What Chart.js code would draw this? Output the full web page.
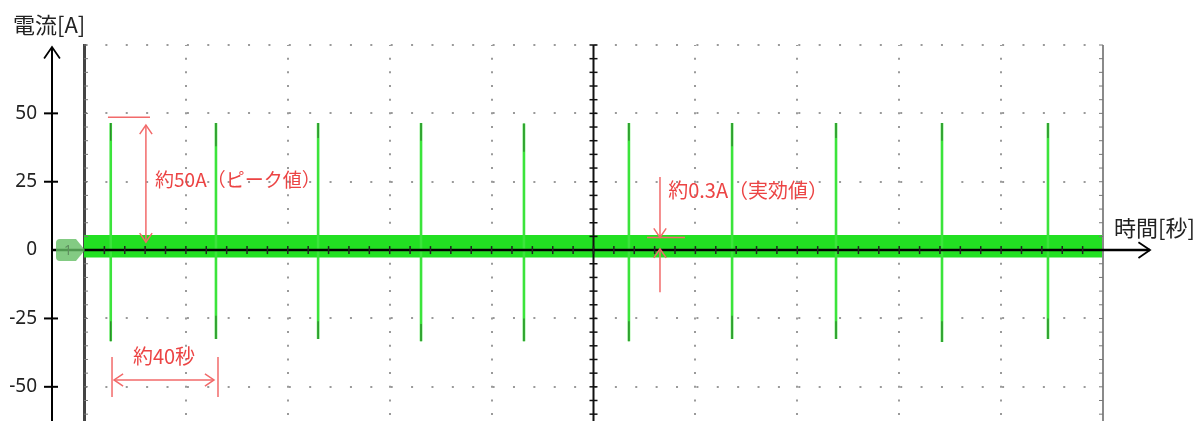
<!DOCTYPE html>
<html>
<head>
<meta charset="utf-8">
<script src="https://cdn.jsdelivr.net/npm/chart.js@4"></script>
<style>
body { margin: 0; background: #fff; overflow: hidden; }
canvas { display: block; }
</style>
</head>
<body>
<canvas id="scopeChart" width="1202" height="421"></canvas>
<script>
// 横軸 [秒] / 縦軸 [A]
var timeRange = [0, 400];
var timeStep = 40;
var currentRange = [-62.5, 75];
var currentGrid = [-50, -25, 0, 25, 50, 75];
var currentLabels = ["-50", "-25", "0", "25", "50", ""];

// スパイク (約40秒おき)
var spikeTimes = [10.5, 51.8, 91.9, 132.3, 172.7, 213.9, 254.4, 295.2, 336.8, 378.4];
var spikePeaks = [46.5, 46.5, 46.5, 46.5, 46.3, 46.5, 46.5, 46.5, 46.5, 46.5];
var spikeTroughs = [-33.3, -32.5, -32.5, -33.3, -33.3, -33.3, -32.5, -32.5, -33.6, -32.5];
// スパイク先端の濃い部分
var spikeDarkTop = [40, 38, 41, 40, 36, 40, 38, 41, 40, 41];
var spikeDarkBottom = [-26, -24, -26, -27, -25, -26, -24, -26, -26, -25];

// 定常時のノイズ帯
var bandTimes = [0, 400];
var bandUpper = [5.5, 5.5];
var bandLower = [-2.7, -2.7];

// 注記 (時間, 電流)
var peakLine = [9.4, 25.9, 48.6];          // t1, t2, A
var peakArrow = [24.3, 45.7, 2.9];         // t, A top, A bottom
var peakText = [27.9, 25.6];
var rmsArrow = [226.1, 26.7, 4.6, -15.4, 0.5]; // t, top, tip1, bottom, tip2
var rmsLine = [221.0, 235.9, 4.6];
var rmsText = [229.3, 21.9];
var periodLines = [11.0, 52.6, -39.1, -53.7];  // t1, t2, A top, A bottom
var periodArrow = [-47.5];
var periodText = [19.2, -38.8];

var spikeData = [];
var darkData = [];
for (var i = 0; i < spikeTimes.length; i++) {
    spikeData.push({x: spikeTimes[i], y: 0});
    spikeData.push({x: spikeTimes[i], y: spikePeaks[i]});
    spikeData.push({x: spikeTimes[i], y: spikeTroughs[i]});
    spikeData.push({x: spikeTimes[i], y: 0});
    darkData.push({x: spikeTimes[i], y: spikePeaks[i]});
    darkData.push({x: spikeTimes[i], y: spikeDarkTop[i]});
    darkData.push({x: spikeTimes[i], y: null});
    darkData.push({x: spikeTimes[i], y: spikeDarkBottom[i]});
    darkData.push({x: spikeTimes[i], y: spikeTroughs[i]});
    darkData.push({x: spikeTimes[i], y: null});
}
var upperData = bandTimes.map(function(t, i) { return {x: t, y: bandUpper[i]}; });
var lowerData = bandTimes.map(function(t, i) { return {x: t, y: bandLower[i]}; });

var red = "#ec4444";
var redLine = "#f26a6a";
var cjk = "'Noto Sans CJK JP', 'Noto Sans', sans-serif";

function chevron(ctx, x, y, ang, len) {
    ctx.beginPath();
    ctx.moveTo(x - len * Math.cos(ang - 0.6), y - len * Math.sin(ang - 0.6));
    ctx.lineTo(x, y);
    ctx.lineTo(x - len * Math.cos(ang + 0.6), y - len * Math.sin(ang + 0.6));
    ctx.stroke();
}

function line(ctx, x1, y1, x2, y2) {
    ctx.beginPath();
    ctx.moveTo(x1, y1);
    ctx.lineTo(x2, y2);
    ctx.stroke();
}

var scopeDecor = {
    id: "scopeDecor",
    afterDatasetsDraw: function(chart) {
        var ctx = chart.ctx, xs = chart.scales.x, ys = chart.scales.y, area = chart.chartArea;
        var X = function(v) { return xs.getPixelForValue(v); };
        var Y = function(v) { return ys.getPixelForValue(v); };
        var y0 = Y(0), xc = X(200);
        ctx.save();

        // right frame
        ctx.strokeStyle = "#8a8a8a";
        ctx.lineWidth = 2;
        line(ctx, X(400), area.top, X(400), area.bottom);

        // minor ticks on frames
        ctx.lineWidth = 1;
        for (var a = -60; a <= 75; a += 5) {
            ctx.strokeStyle = "#777";
            line(ctx, area.left, Y(a), area.left + 4, Y(a));
            line(ctx, X(400) - 4, Y(a), X(400), Y(a));
        }

        // center vertical line
        ctx.strokeStyle = "#111";
        ctx.lineWidth = 2;
        line(ctx, xc, area.top, xc, area.bottom);
        ctx.lineWidth = 1.5;
        for (var b = -60; b <= 75; b += 5) {
            line(ctx, xc - 4, Y(b), xc + 4, Y(b));
        }

        // x axis arrow (0 A line)
        ctx.strokeStyle = "#000";
        ctx.lineWidth = 2.5;
        line(ctx, 52, y0, 1150, y0);
        ctx.lineWidth = 1.8;
        chevron(ctx, 1150, y0, 0, 14);
        ctx.lineWidth = 1.5;
        ctx.strokeStyle = "#222";
        for (var t = 8; t < 400; t += 8) {
            line(ctx, X(t), y0 - 4, X(t), y0 + 4);
        }

        // y axis arrow
        ctx.strokeStyle = "#000";
        ctx.lineWidth = 2;
        line(ctx, 52, 47, 52, area.bottom);
        ctx.lineWidth = 1.8;
        chevron(ctx, 52, 47, -Math.PI / 2, 14);
        for (var k = 0; k < currentGrid.length; k++) {
            var v = currentGrid[k];
            if (v === 0 || currentLabels[k] === "") continue;
            ctx.lineWidth = 2;
            line(ctx, 44, Y(v), 58, Y(v));
        }

        // channel marker
        ctx.fillStyle = "rgba(100,190,100,0.8)";
        ctx.beginPath();
        ctx.moveTo(60, y0 - 11);
        ctx.lineTo(76, y0 - 11);
        ctx.lineTo(85, y0);
        ctx.lineTo(76, y0 + 11);
        ctx.lineTo(60, y0 + 11);
        ctx.quadraticCurveTo(56, y0 + 11, 56, y0 + 7);
        ctx.lineTo(56, y0 - 7);
        ctx.quadraticCurveTo(56, y0 - 11, 60, y0 - 11);
        ctx.fill();
        ctx.fillStyle = "#5f8f5f";
        ctx.font = "14px 'Noto Sans'";
        ctx.textAlign = "center";
        ctx.textBaseline = "middle";
        ctx.fillText("1", 68, y0 + 1);

        // axis titles
        ctx.fillStyle = "#222";
        ctx.textAlign = "left";
        ctx.font = "22px " + cjk;
        ctx.fillText("電流[A]", 13, 25);
        ctx.fillText("時間[秒]", 1114, 228);

        // peak annotation
        ctx.strokeStyle = redLine;
        ctx.lineWidth = 1.5;
        line(ctx, X(peakLine[0]), Y(peakLine[2]), X(peakLine[1]), Y(peakLine[2]));
        line(ctx, X(peakArrow[0]), Y(peakArrow[1]), X(peakArrow[0]), Y(peakArrow[2]));
        chevron(ctx, X(peakArrow[0]), Y(peakArrow[1]), -Math.PI / 2, 11);
        chevron(ctx, X(peakArrow[0]), Y(peakArrow[2]), Math.PI / 2, 11);

        // rms annotation
        line(ctx, X(rmsArrow[0]), Y(rmsArrow[1]), X(rmsArrow[0]), Y(rmsArrow[2]));
        chevron(ctx, X(rmsArrow[0]), Y(rmsArrow[2]), Math.PI / 2, 11);
        line(ctx, X(rmsArrow[0]), Y(rmsArrow[3]), X(rmsArrow[0]), Y(rmsArrow[4]));
        chevron(ctx, X(rmsArrow[0]), Y(rmsArrow[4]), -Math.PI / 2, 11);
        line(ctx, X(rmsLine[0]), Y(rmsLine[2]), X(rmsLine[1]), Y(rmsLine[2]));

        // period annotation
        line(ctx, X(periodLines[0]), Y(periodLines[2]), X(periodLines[0]), Y(periodLines[3]));
        line(ctx, X(periodLines[1]), Y(periodLines[2]), X(periodLines[1]), Y(periodLines[3]));
        line(ctx, X(periodLines[0]) + 2, Y(periodArrow[0]), X(periodLines[1]) - 4, Y(periodArrow[0]));
        chevron(ctx, X(periodLines[0]) + 2, Y(periodArrow[0]), Math.PI, 11);
        chevron(ctx, X(periodLines[1]) - 4, Y(periodArrow[0]), 0, 11);

        ctx.fillStyle = red;
        ctx.textBaseline = "middle";
        ctx.font = "19px " + cjk;
        ctx.fillText("約50A（ピーク値）", X(peakText[0]), Y(peakText[1]));
        ctx.font = "20px " + cjk;
        ctx.fillText("約0.3A（実効値）", X(rmsText[0]), Y(rmsText[1]));
        ctx.fillText("約40秒", X(periodText[0]), Y(periodText[1]));
        ctx.restore();
    }
};

var compareChart = document.getElementById("scopeChart");
var myLineChart = new Chart(compareChart, {
    type: "line",
    data: {
        datasets: [{
            label: "spikeDark",
            data: darkData,
            borderColor: "#2d7d2d",
            borderWidth: 1.2,
            pointRadius: 0,
            tension: 0,
            spanGaps: false,
            fill: false,
            order: 0
        }, {
            label: "spike",
            data: spikeData,
            borderColor: "#3be43b",
            borderWidth: 2.6,
            pointRadius: 0,
            tension: 0,
            fill: false,
            order: 1
        }, {
            label: "bandUpper",
            data: upperData,
            borderWidth: 0,
            borderColor: "#22e022",
            backgroundColor: "#22e022",
            pointRadius: 0,
            fill: "+1",
            order: 2
        }, {
            label: "bandLower",
            data: lowerData,
            borderWidth: 0,
            borderColor: "#22e022",
            pointRadius: 0,
            fill: false,
            order: 3
        }]
    },
    options: {
        responsive: false,
        animation: false,
        devicePixelRatio: 1,
        layout: { padding: { top: 45, right: 99, left: 0, bottom: 0 } },
        plugins: { legend: { display: false }, tooltip: { enabled: false } },
        scales: {
            x: {
                type: "linear",
                min: timeRange[0],
                max: timeRange[1],
                ticks: { display: false, stepSize: timeStep },
                afterFit: function(scale) { scale.height = 0; },
                grid: {
                    drawTicks: false,
                    lineWidth: 2,
                    color: function(c) {
                        var v = c.tick ? c.tick.value : null;
                        return (v === 0 || v === 200 || v === 400) ? "rgba(0,0,0,0)" : "#9a9a9a";
                    }
                },
                border: { display: false, dash: [2, 11.67], dashOffset: 1 }
            },
            y: {
                min: currentRange[0],
                max: currentRange[1],
                afterBuildTicks: function(scale) {
                    scale.ticks = currentGrid.map(function(v) { return {value: v}; });
                },
                afterFit: function(scale) {
                    scale.width = 84;
                    scale.paddingTop = 0;
                    scale.paddingBottom = 0;
                },
                ticks: {
                    padding: 47,
                    color: "#222",
                    font: { family: "'Noto Sans'", size: 19 },
                    callback: function(value) {
                        return currentLabels[currentGrid.indexOf(value)];
                    }
                },
                grid: {
                    drawTicks: false,
                    lineWidth: 2,
                    color: function(c) {
                        var v = c.tick ? c.tick.value : null;
                        return v === 0 ? "rgba(0,0,0,0)" : "#9a9a9a";
                    }
                },
                border: { display: true, color: "#444", width: 3, dash: [2, 18.38], dashOffset: 1 }
            }
        }
    },
    plugins: [scopeDecor]
});
</script>
</body>
</html>
